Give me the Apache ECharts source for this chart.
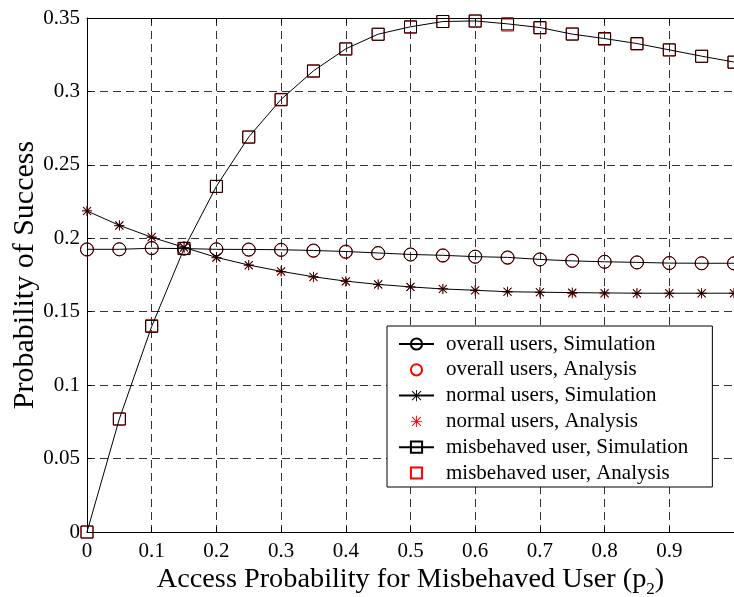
<!DOCTYPE html>
<html>
<head>
<meta charset="utf-8">
<script src="https://cdn.jsdelivr.net/npm/echarts@6/dist/echarts.min.js"></script>
<style>
  html, body { margin: 0; padding: 0; background: #fff; }
  #chart { width: 734px; height: 597px; }
</style>
</head>
<body>
<div id="chart"></div>
<script>
// Access probability of the misbehaved user (p2)
const accessProb = [0, 0.05, 0.1, 0.15, 0.2, 0.25, 0.3, 0.35, 0.4, 0.45, 0.5,
                    0.55, 0.6, 0.65, 0.7, 0.75, 0.8, 0.85, 0.9, 0.95, 1.0];

// Probability of success, overall users
const overallSim = [0.1925, 0.1925, 0.1932, 0.1930, 0.1925, 0.1924, 0.1922, 0.1917, 0.1910, 0.1900, 0.1890,
                    0.1884, 0.1875, 0.1870, 0.1856, 0.1846, 0.1840, 0.1836, 0.1831, 0.1830, 0.1830];
const overallAna = [0.1922, 0.1925, 0.1935, 0.1930, 0.1925, 0.1921, 0.1920, 0.1914, 0.1906, 0.1898, 0.1889,
                    0.1881, 0.1874, 0.1866, 0.1856, 0.1848, 0.1840, 0.1835, 0.1832, 0.1830, 0.1828];

// Probability of success, normal users
const normalSim = [0.2186, 0.2088, 0.2007, 0.1938, 0.1870, 0.1818, 0.1775, 0.1738, 0.1708, 0.1686, 0.1669,
                   0.1655, 0.1646, 0.1636, 0.1633, 0.1630, 0.1628, 0.1626, 0.1626, 0.1626, 0.1626];
const normalAna = [0.2186, 0.2085, 0.2010, 0.1935, 0.1866, 0.1815, 0.1772, 0.1735, 0.1705, 0.1685, 0.1668,
                   0.1655, 0.1645, 0.1636, 0.1632, 0.1624, 0.1622, 0.1625, 0.1625, 0.1625, 0.1625];

// Probability of success, misbehaved user
const misbehavedSim = [0, 0.0770, 0.1400, 0.1930, 0.2354, 0.2690, 0.2946, 0.3140, 0.3290, 0.3390, 0.3440,
                       0.3476, 0.3480, 0.3460, 0.3435, 0.3390, 0.3360, 0.3326, 0.3283, 0.3240, 0.3200];
const misbehavedAna = [0, 0.0768, 0.1405, 0.1932, 0.2352, 0.2688, 0.2942, 0.3137, 0.3288, 0.3388, 0.3437,
                       0.3476, 0.3478, 0.3452, 0.3432, 0.3392, 0.3355, 0.3323, 0.3282, 0.3238, 0.3198];

const xTicks = { min: 0, max: 1, interval: 0.1 };
const yTicks = { min: 0, max: 0.35, interval: 0.05 };

const legendNames = [
  'overall users, Simulation', 'overall users, Analysis',
  'normal users, Simulation', 'normal users, Analysis',
  'misbehaved user, Simulation', 'misbehaved user, Analysis'
];

const FONT = '"Liberation Serif", "Times New Roman", serif';

// eight-armed asterisk marker
const STAR = 'path://M9.2 0H10.8V20H9.2Z M0 9.2H20V10.8H0Z ' +
             'M2.57 1.43L18.57 17.43L17.43 18.57L1.43 2.57Z ' +
             'M17.43 1.43L18.57 2.57L2.57 18.57L1.43 17.43Z';

const pairs = ys => accessProb.map((x, i) => [x, ys[i]]);

const hollow = color => ({ color: 'transparent', borderColor: color, borderWidth: 1 });

// simulated curves: black line with markers
function simSeries(name, ys, symbol, size, itemStyle) {
  return {
    name, type: 'line', data: pairs(ys), z: 3,
    symbol, symbolSize: size, showAllSymbol: true,
    lineStyle: { color: '#000', width: 1 },
    itemStyle, emphasis: { disabled: true }, animation: false
  };
}
// analytical results: red markers only, no connecting line
function anaSeries(name, ys, symbol, size, itemStyle) {
  return {
    name, type: 'line', data: pairs(ys), z: 2,
    symbol, symbolSize: size, showAllSymbol: true,
    lineStyle: { color: '#f00', width: 1, opacity: 0 },
    itemStyle, emphasis: { disabled: true }, animation: false
  };
}

const chart = echarts.init(document.getElementById('chart'), null, { renderer: 'canvas' });

const axisLine = { show: true, lineStyle: { color: '#000', width: 1 } };
const axisTick = { show: true, inside: true, length: 5, lineStyle: { color: '#000', width: 1 } };
const splitLine = { show: true, lineStyle: { color: '#333', width: 1, type: [8, 5] } };

const noLine = { opacity: 0 };

chart.setOption({
  backgroundColor: '#fff',
  animation: false,
  grid: { left: 87, top: 18, width: 647, bottom: 65, containLabel: false, outerBoundsMode: 'none' },
  xAxis: [{
    type: 'value', ...xTicks,
    axisLine, axisTick, splitLine,
    axisLabel: { color: '#000', fontFamily: FONT, fontSize: 21, margin: 9, showMaxLabel: false },
    name: 'Access Probability for Misbehaved User (p{sub|2})',
    nameLocation: 'middle', nameGap: 30, nameMoveOverlap: false,
    nameTextStyle: {
      color: '#000', fontFamily: FONT, fontSize: 28.3, verticalAlign: 'top',
      rich: { sub: { fontFamily: FONT, fontSize: 17, color: '#000', verticalAlign: 'top', padding: [19, 0, 0, 0] } }
    }
  }, {
    type: 'value', position: 'top', ...xTicks,
    axisLine, axisTick, splitLine: { show: false }, axisLabel: { show: false }
  }],
  yAxis: [{
    type: 'value', ...yTicks,
    axisLine, axisTick, splitLine,
    axisLabel: { color: '#000', fontFamily: FONT, fontSize: 21, margin: 7 },
    name: 'Probability of Success',
    nameLocation: 'middle', nameGap: 47, nameRotate: 90, nameMoveOverlap: false,
    nameTextStyle: { color: '#000', fontFamily: FONT, fontSize: 30 }
  }],
  legend: {
    orient: 'vertical', left: 387, top: 326,
    data: [
      { name: legendNames[0] },
      { name: legendNames[1], lineStyle: noLine },
      { name: legendNames[2] },
      { name: legendNames[3], lineStyle: noLine },
      { name: legendNames[4] },
      { name: legendNames[5], lineStyle: noLine }
    ],
    backgroundColor: '#fff', borderColor: '#000', borderWidth: 1, borderRadius: 0,
    padding: [7, 24, 3, 11],
    itemWidth: 35, itemHeight: 14, itemGap: 3.8,
    selectedMode: false,
    textStyle: { color: '#000', fontFamily: FONT, fontSize: 21, lineHeight: 22, padding: [0, 0, 0, 7] }
  },
  series: [
    simSeries(legendNames[0], overallSim, 'circle', 13, hollow('#000')),
    anaSeries(legendNames[1], overallAna, 'circle', 13, hollow('#f00')),
    simSeries(legendNames[2], normalSim, STAR, 10, { color: '#000' }),
    anaSeries(legendNames[3], normalAna, STAR, 10, { color: '#f00' }),
    simSeries(legendNames[4], misbehavedSim, 'rect', 12, hollow('#000')),
    anaSeries(legendNames[5], misbehavedAna, 'rect', 12, hollow('#f00'))
  ]
});
</script>
</body>
</html>
